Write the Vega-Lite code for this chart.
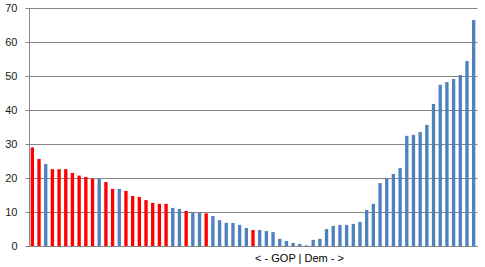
{
  "$schema": "https://vega.github.io/schema/vega-lite/v6.json",
  "width": 448,
  "height": 238,
  "autosize": "none",
  "padding": {"left": 29, "top": 8, "right": 8, "bottom": 21},
  "background": "white",
  "config": {
    "view": {"stroke": null},
    "font": "Liberation Sans"
  },
  "data": {
    "values": [
      {"i": 1, "v": 29.0, "p": "R"},
      {"i": 2, "v": 25.6, "p": "R"},
      {"i": 3, "v": 24.1, "p": "D"},
      {"i": 4, "v": 22.6, "p": "R"},
      {"i": 5, "v": 22.6, "p": "R"},
      {"i": 6, "v": 22.6, "p": "R"},
      {"i": 7, "v": 21.5, "p": "R"},
      {"i": 8, "v": 20.7, "p": "R"},
      {"i": 9, "v": 20.3, "p": "R"},
      {"i": 10, "v": 19.8, "p": "R"},
      {"i": 11, "v": 19.8, "p": "D"},
      {"i": 12, "v": 18.8, "p": "R"},
      {"i": 13, "v": 16.8, "p": "R"},
      {"i": 14, "v": 16.8, "p": "D"},
      {"i": 15, "v": 16.2, "p": "R"},
      {"i": 16, "v": 14.7, "p": "R"},
      {"i": 17, "v": 14.4, "p": "R"},
      {"i": 18, "v": 13.5, "p": "R"},
      {"i": 19, "v": 12.7, "p": "R"},
      {"i": 20, "v": 12.4, "p": "R"},
      {"i": 21, "v": 12.4, "p": "R"},
      {"i": 22, "v": 11.2, "p": "D"},
      {"i": 23, "v": 10.9, "p": "D"},
      {"i": 24, "v": 10.3, "p": "R"},
      {"i": 25, "v": 9.7, "p": "D"},
      {"i": 26, "v": 9.7, "p": "D"},
      {"i": 27, "v": 9.6, "p": "R"},
      {"i": 28, "v": 8.8, "p": "D"},
      {"i": 29, "v": 7.6, "p": "D"},
      {"i": 30, "v": 6.8, "p": "D"},
      {"i": 31, "v": 6.8, "p": "D"},
      {"i": 32, "v": 6.2, "p": "D"},
      {"i": 33, "v": 5.3, "p": "D"},
      {"i": 34, "v": 4.7, "p": "R"},
      {"i": 35, "v": 4.7, "p": "D"},
      {"i": 36, "v": 4.4, "p": "D"},
      {"i": 37, "v": 4.1, "p": "D"},
      {"i": 38, "v": 2.1, "p": "D"},
      {"i": 39, "v": 1.5, "p": "D"},
      {"i": 40, "v": 0.9, "p": "D"},
      {"i": 41, "v": 0.6, "p": "D"},
      {"i": 42, "v": 0.2, "p": "D"},
      {"i": 43, "v": 1.8, "p": "D"},
      {"i": 44, "v": 2.1, "p": "D"},
      {"i": 45, "v": 5.0, "p": "D"},
      {"i": 46, "v": 5.9, "p": "D"},
      {"i": 47, "v": 6.2, "p": "D"},
      {"i": 48, "v": 6.2, "p": "D"},
      {"i": 49, "v": 6.5, "p": "D"},
      {"i": 50, "v": 7.1, "p": "D"},
      {"i": 51, "v": 10.6, "p": "D"},
      {"i": 52, "v": 12.4, "p": "D"},
      {"i": 53, "v": 18.5, "p": "D"},
      {"i": 54, "v": 19.8, "p": "D"},
      {"i": 55, "v": 21.2, "p": "D"},
      {"i": 56, "v": 22.9, "p": "D"},
      {"i": 57, "v": 32.4, "p": "D"},
      {"i": 58, "v": 32.7, "p": "D"},
      {"i": 59, "v": 33.5, "p": "D"},
      {"i": 60, "v": 35.6, "p": "D"},
      {"i": 61, "v": 41.8, "p": "D"},
      {"i": 62, "v": 47.4, "p": "D"},
      {"i": 63, "v": 48.2, "p": "D"},
      {"i": 64, "v": 49.1, "p": "D"},
      {"i": 65, "v": 50.3, "p": "D"},
      {"i": 66, "v": 54.4, "p": "D"},
      {"i": 67, "v": 66.5, "p": "D"}
    ]
  },
  "mark": {"type": "bar"},
  "encoding": {
    "x": {
      "field": "i",
      "type": "ordinal",
      "sort": "ascending",
      "scale": {"paddingInner": 0.5, "paddingOuter": 0.25},
      "axis": {
        "labels": false,
        "ticks": false,
        "domain": true,
        "domainColor": "#868686",
        "domainWidth": 1,
        "title": "< - GOP | Dem - >",
        "titleFont": "Liberation Sans",
        "titleFontSize": 11,
        "titleFontWeight": "normal",
        "titleColor": "#000000",
        "titleX": 270,
        "titleY": 12,
        "titleAlign": "center",
        "titleBaseline": "middle"
      }
    },
    "y": {
      "field": "v",
      "type": "quantitative",
      "scale": {"domain": [0, 70], "nice": false},
      "axis": {
        "values": [0, 10, 20, 30, 40, 50, 60, 70],
        "title": null,
        "grid": true,
        "gridColor": "#868686",
        "gridWidth": 1,
        "gridOpacity": 1,
        "domainColor": "#868686",
        "tickColor": "#868686",
        "tickSize": 4,
        "labelPadding": 8,
        "labelFont": "Liberation Sans",
        "labelFontSize": 11,
        "labelColor": "#1a1a1a"
      }
    },
    "color": {
      "field": "p",
      "type": "nominal",
      "scale": {"domain": ["R", "D"], "range": ["#FF0000", "#4F81BD"]},
      "legend": null
    }
  }
}
